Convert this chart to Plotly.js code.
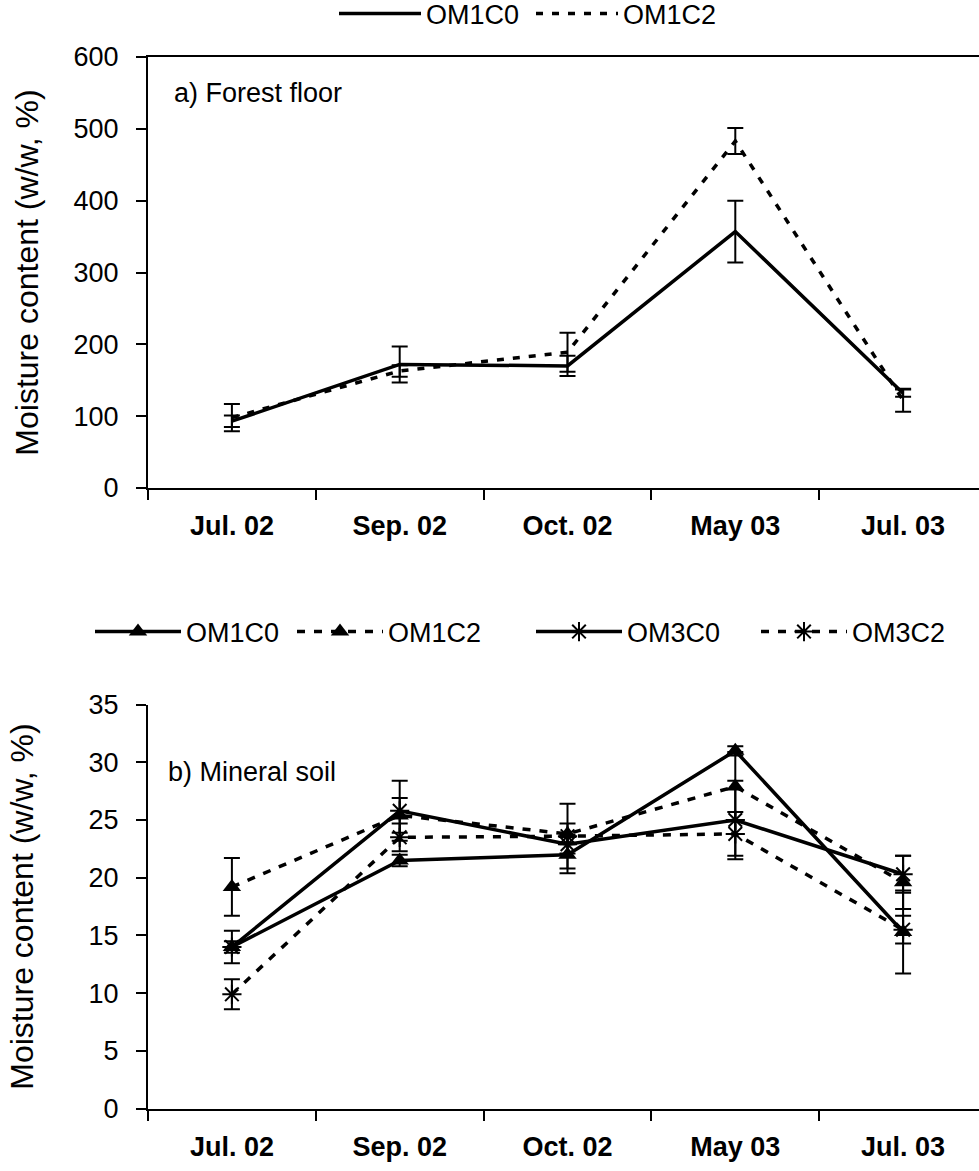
<!DOCTYPE html>
<html>
<head>
<meta charset="utf-8">
<script src="https://cdn.plot.ly/plotly-3.0.1.min.js"></script>
<style>
  html, body { margin: 0; padding: 0; background: #fff; overflow: hidden; }
  #chart { width: 979px; height: 1171px; }
</style>
</head>
<body>
<div id="chart"></div>
<script>
// Sampling dates
const months = ['Jul. 02', 'Sep. 02', 'Oct. 02', 'May 03', 'Jul. 03'];

// a) Forest floor moisture content (w/w, %)
const ffOM1C0 = [93, 172, 170, 357, 132];
const ffOM1C0Err = [8, 25, 14, 43, 5];
const ffOM1C2 = [98, 163, 189, 483, 122];
const ffOM1C2Err = [19, 8, 27, 18, 16];

// b) Mineral soil moisture content (w/w, %)
const msOM1C0 = [14.0, 21.5, 22.0, 31.0, 15.3];
const msOM1C0Err = [0.5, 0.5, 1.6, 0.4, 3.6];
const msOM1C2 = [19.2, 25.4, 23.8, 27.9, 19.6];
const msOM1C2Err = [2.5, 1.5, 0.9, 3.0, 2.3];
const msOM3C0 = [14.0, 25.8, 22.9, 25.0, 20.3];
const msOM3C0Err = [1.4, 2.6, 0.8, 3.4, 1.6];
const msOM3C2 = [9.9, 23.5, 23.6, 23.8, 15.5];
const msOM3C2Err = [1.3, 1.2, 2.8, 1.9, 1.2];

const FONT = 'Liberation Sans, Arial, sans-serif';
const W = 979, H = 1171;

function errBars(arr) {
  return { type: 'data', array: arr, visible: true, color: '#000', thickness: 2, width: 8 };
}

function series(name, x, y, err, opts) {
  return Object.assign({
    type: 'scatter',
    name: name,
    x: x, y: y,
    error_y: errBars(err),
    cliponaxis: false
  }, opts);
}

const DASH_A = '7px,9px';
const DASH_B = '8px,9px';

const triMarker = { symbol: 'triangle-up', size: 16, color: '#000' };
const starMarker = { symbol: 'asterisk-open', size: 16, color: '#000', line: { color: '#000', width: 2 } };

const traces = [
  series('OM1C0', months, ffOM1C0, ffOM1C0Err, {
    mode: 'lines', line: { color: '#000', width: 3.5 },
    xaxis: 'x', yaxis: 'y', legend: 'legend'
  }),
  series('OM1C2', months, ffOM1C2, ffOM1C2Err, {
    mode: 'lines', line: { color: '#000', width: 3.5, dash: DASH_A },
    xaxis: 'x', yaxis: 'y', legend: 'legend'
  }),
  series('OM1C0', months, msOM1C0, msOM1C0Err, {
    mode: 'lines+markers', line: { color: '#000', width: 3.5 }, marker: triMarker,
    xaxis: 'x2', yaxis: 'y2', legend: 'legend2'
  }),
  series('OM1C2', months, msOM1C2, msOM1C2Err, {
    mode: 'lines+markers', line: { color: '#000', width: 3.5, dash: DASH_B }, marker: triMarker,
    xaxis: 'x2', yaxis: 'y2', legend: 'legend2'
  }),
  series('OM3C0', months, msOM3C0, msOM3C0Err, {
    mode: 'lines+markers', line: { color: '#000', width: 3.5 }, marker: starMarker,
    xaxis: 'x2', yaxis: 'y2', legend: 'legend3'
  }),
  series('OM3C2', months, msOM3C2, msOM3C2Err, {
    mode: 'lines+markers', line: { color: '#000', width: 3.5, dash: DASH_B }, marker: starMarker,
    xaxis: 'x2', yaxis: 'y2', legend: 'legend3'
  })
];

// pixel helpers for layout placement
const L = 148;
const plotW = W - L;
const px2fx = p => (p - L) / plotW;
const px2fy = p => (H - p) / H;

// category spacing ~168 px; plot area runs past the right edge of the page
const catPx = 167.8;
const xMax = 4.5 - (L + 5 * catPx - W) / catPx;

function xAxis(anchor, mirror) {
  return {
    type: 'category', anchor: anchor,
    range: [-0.5, xMax], autorange: false,
    tickson: 'boundaries', ticks: 'outside', ticklen: 10, tickwidth: 2, tickcolor: '#000',
    showline: true, linecolor: '#000', linewidth: 2, mirror: mirror,
    showgrid: false, zeroline: false,
    ticklabelstandoff: 13,
    tickfont: { family: FONT, size: 27, color: '#000', weight: 'bold' }
  };
}

function yAxis(anchor, domain, range, dtick, standoff) {
  return {
    anchor: anchor, domain: domain,
    range: range, autorange: false, dtick: dtick,
    ticks: 'outside', ticklen: 10, tickwidth: 2, tickcolor: '#000',
    showline: true, linecolor: '#000', linewidth: 2,
    showgrid: false, zeroline: false,
    ticklabelstandoff: 12,
    tickfont: { family: FONT, size: 27, color: '#000' },
    title: { text: 'Moisture content (w/w, %)', standoff: standoff,
             font: { family: FONT, size: 32, color: '#000' } }
  };
}

const legendBase = {
  orientation: 'h', xref: 'paper', yref: 'paper', xanchor: 'left', yanchor: 'middle',
  itemwidth: 86, font: { family: FONT, size: 27, color: '#000' },
  bgcolor: 'rgba(0,0,0,0)', tracegroupgap: 0
};

const layout = {
  width: W, height: H,
  margin: { l: L, r: 0, t: 0, b: 0, autoexpand: false },
  paper_bgcolor: '#fff', plot_bgcolor: '#fff',
  font: { family: FONT, color: '#000' },
  showlegend: true,
  xaxis: Object.assign(xAxis('y', true), { domain: [0, 1] }),
  yaxis: yAxis('x', [px2fy(488), px2fy(57)], [0, 600], 100, 25),
  xaxis2: Object.assign(xAxis('y2', false), { domain: [0, 1] }),
  yaxis2: yAxis('x2', [px2fy(1108.6), px2fy(704.6)], [0, 35], 5, 45),
  // top legend (panel a)
  legend: Object.assign({}, legendBase, {
    x: px2fx(334), y: px2fy(14), entrywidth: 100, itemwidth: 82
  }),
  // panel b legend row, split in two so the full row fits
  legend2: Object.assign({}, legendBase, { x: px2fx(90), y: px2fy(632), entrywidth: 101 }),
  legend3: Object.assign({}, legendBase, { x: px2fx(531), y: px2fy(632), entrywidth: 124 }),
  annotations: [
    { text: 'a) Forest floor', xref: 'paper', yref: 'paper',
      x: px2fx(172), xanchor: 'left', y: px2fy(93), yanchor: 'middle',
      showarrow: false, font: { family: FONT, size: 27, color: '#000' } },
    { text: 'b) Mineral soil', xref: 'paper', yref: 'paper',
      x: px2fx(166), xanchor: 'left', y: px2fy(772), yanchor: 'middle',
      showarrow: false, font: { family: FONT, size: 27, color: '#000' } }
  ]
};

Plotly.newPlot('chart', traces, layout, { staticPlot: true, displayModeBar: false });
</script>
</body>
</html>
